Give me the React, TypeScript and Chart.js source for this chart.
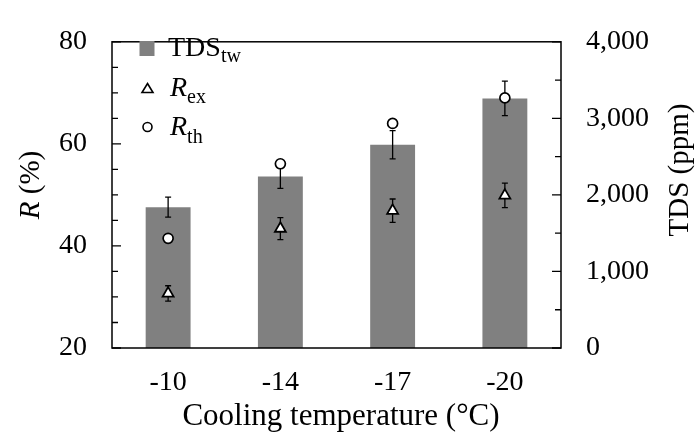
import React, { useEffect, useRef } from 'react';
import { Chart, registerables } from 'chart.js';

Chart.register(...registerables);

const categories = ['-10', '-14', '-17', '-20'];
const tdsTw = [1840, 2240, 2655, 3260];
const tdsTwErr = [130, 155, 185, 225];
const rEx = [30.7, 43.4, 46.9, 49.9];
const rExErr = [1.5, 2.15, 2.3, 2.4];
const rTh = [41.5, 56.1, 64.0, 69.0];
const leftMinorTicks = [20, 25, 30, 35, 40, 45, 50, 55, 60, 65, 70, 75, 80];
const rightMinorTicks = [0, 500, 1000, 1500, 2000, 2500, 3000, 3500, 4000];

const SERIF = '"Liberation Serif", "Times New Roman", Times, serif';
const BAR_COLOR = '#808080';

function textRun(ctx: CanvasRenderingContext2D, parts: { t: string; font: string; dy?: number }[], x: number, y: number, align: 'left' | 'center') {
  let total = 0;
  for (const p of parts) {
    ctx.font = p.font;
    total += ctx.measureText(p.t).width;
  }
  let cx = align === 'center' ? x - total / 2 : x;
  ctx.textAlign = 'left';
  ctx.textBaseline = 'alphabetic';
  for (const p of parts) {
    ctx.font = p.font;
    ctx.fillText(p.t, cx, y + (p.dy || 0));
    cx += ctx.measureText(p.t).width;
  }
}

const decorPlugin = {
  id: 'decor',
  afterDatasetDraw(chart: any, args: any) {
    if (args.index !== 0) return;
    const ctx: CanvasRenderingContext2D = chart.ctx;
    const xs = chart.scales.x;
    const ys = chart.scales.y;
    const y1s = chart.scales.y1;
    ctx.save();
    ctx.strokeStyle = '#000';
    ctx.lineWidth = 1.3;
    const cap = 3;
    const drawErr = (px: number, a: number, b: number) => {
      ctx.beginPath();
      ctx.moveTo(px, a);
      ctx.lineTo(px, b);
      ctx.moveTo(px - cap, a);
      ctx.lineTo(px + cap, a);
      ctx.moveTo(px - cap, b);
      ctx.lineTo(px + cap, b);
      ctx.stroke();
    };
    tdsTw.forEach((v, i) => {
      const px = xs.getPixelForValue(i);
      drawErr(px, y1s.getPixelForValue(v + tdsTwErr[i]), y1s.getPixelForValue(v - tdsTwErr[i]));
    });
    rEx.forEach((v, i) => {
      const px = xs.getPixelForValue(i);
      drawErr(px, ys.getPixelForValue(v + rExErr[i]), ys.getPixelForValue(v - rExErr[i]));
    });
    ctx.restore();
  },
  afterDraw(chart: any) {
    const ctx: CanvasRenderingContext2D = chart.ctx;
    const a = chart.chartArea;
    const ys = chart.scales.y;
    const y1s = chart.scales.y1;
    ctx.save();
    ctx.strokeStyle = '#000';
    ctx.lineWidth = 1.5;
    ctx.strokeRect(a.left, a.top, a.right - a.left, a.bottom - a.top);
    // inward ticks
    ctx.lineWidth = 1.3;
    ctx.beginPath();
    leftMinorTicks.forEach((v) => {
      const py = ys.getPixelForValue(v);
      const len = v % 20 === 0 ? 9 : 6;
      ctx.moveTo(a.left, py);
      ctx.lineTo(a.left + len, py);
    });
    rightMinorTicks.forEach((v) => {
      const py = y1s.getPixelForValue(v);
      const len = v % 1000 === 0 ? 9 : 6;
      ctx.moveTo(a.right, py);
      ctx.lineTo(a.right - len, py);
    });
    ctx.stroke();

    ctx.fillStyle = '#000';
    // x title
    textRun(ctx, [{ t: 'Cooling temperature (°C)', font: `31px ${SERIF}` }], 341, 425, 'center');
    // left title
    ctx.save();
    ctx.translate(39, 185);
    ctx.rotate(-Math.PI / 2);
    textRun(ctx, [
      { t: 'R', font: `italic 29px ${SERIF}` },
      { t: ' (%)', font: `29px ${SERIF}` },
    ], 0, 0, 'center');
    ctx.restore();
    // right title
    ctx.save();
    ctx.translate(688, 170);
    ctx.rotate(-Math.PI / 2);
    textRun(ctx, [{ t: 'TDS (ppm)', font: `29px ${SERIF}` }], 0, 0, 'center');
    ctx.restore();

    // legend
    ctx.fillStyle = BAR_COLOR;
    ctx.fillRect(139.5, 41, 15, 15);
    ctx.fillStyle = '#000';
    textRun(ctx, [
      { t: 'TDS', font: `28px ${SERIF}` },
      { t: 'tw', font: `20px ${SERIF}`, dy: 6 },
    ], 168, 56, 'left');
    // triangle marker
    ctx.beginPath();
    ctx.moveTo(147.5, 83.5);
    ctx.lineTo(153, 92.5);
    ctx.lineTo(142, 92.5);
    ctx.closePath();
    ctx.fillStyle = '#fff';
    ctx.fill();
    ctx.lineWidth = 1.6;
    ctx.strokeStyle = '#000';
    ctx.stroke();
    ctx.fillStyle = '#000';
    textRun(ctx, [
      { t: 'R', font: `italic 28px ${SERIF}` },
      { t: 'ex', font: `20px ${SERIF}`, dy: 7 },
    ], 170, 96, 'left');
    // circle marker
    ctx.beginPath();
    ctx.arc(147.5, 127, 4.5, 0, Math.PI * 2);
    ctx.fillStyle = '#fff';
    ctx.fill();
    ctx.stroke();
    ctx.fillStyle = '#000';
    textRun(ctx, [
      { t: 'R', font: `italic 28px ${SERIF}` },
      { t: 'th', font: `20px ${SERIF}`, dy: 8 },
    ], 170, 135, 'left');
    ctx.restore();
  },
};

export default function App() {
  const ref = useRef<HTMLCanvasElement | null>(null);
  useEffect(() => {
    document.body.style.margin = '0';
    const canvas = ref.current;
    if (!canvas) return;
    const tickFont = { family: SERIF, size: 28 };
    const chart = new Chart(canvas, {
      type: 'bar',
      data: {
        labels: categories,
        datasets: [
          {
            type: 'bar',
            label: 'TDS_tw',
            data: tdsTw,
            yAxisID: 'y1',
            backgroundColor: BAR_COLOR,
            borderWidth: 0,
            barPercentage: 0.4,
            categoryPercentage: 1,
            order: 3,
          } as any,
          {
            type: 'line',
            label: 'R_ex',
            data: rEx,
            yAxisID: 'y',
            showLine: false,
            pointStyle: 'triangle',
            pointRadius: 6.3,
            pointBackgroundColor: '#fff',
            pointBorderColor: '#000',
            pointBorderWidth: 1.8,
            order: 2,
          } as any,
          {
            type: 'line',
            label: 'R_th',
            data: rTh,
            yAxisID: 'y',
            showLine: false,
            pointStyle: 'circle',
            pointRadius: 5,
            pointBackgroundColor: '#fff',
            pointBorderColor: '#000',
            pointBorderWidth: 1.7,
            order: 1,
          } as any,
        ],
      },
      options: {
        responsive: false,
        devicePixelRatio: 1,
        animation: false,
        layout: { padding: { top: 22, left: 0, right: 0, bottom: 0 } },
        plugins: { legend: { display: false }, tooltip: { enabled: false } },
        scales: {
          x: {
            offset: true,
            grid: { display: false, drawTicks: false },
            border: { display: false },
            ticks: { font: tickFont, color: '#000', padding: 18, maxRotation: 0 },
            afterFit: (s: any) => { s.height = 88; },
          },
          y: {
            position: 'left',
            min: 20,
            max: 80,
            grid: { display: false, drawTicks: false },
            border: { display: false },
            ticks: { stepSize: 20, font: tickFont, color: '#000', padding: 25 },
            afterFit: (s: any) => { s.width = 112; },
          },
          y1: {
            position: 'right',
            min: 0,
            max: 4000,
            grid: { display: false, drawTicks: false },
            border: { display: false },
            ticks: {
              stepSize: 1000,
              font: tickFont,
              color: '#000',
              padding: 25,
              callback: (v: any) => Number(v).toLocaleString('en-US'),
            },
            afterFit: (s: any) => { s.width = 137; },
          },
        },
      } as any,
      plugins: [decorPlugin as any],
    });
    return () => chart.destroy();
  }, []);
  return (
    <div style={{ width: 698, height: 436, background: '#fff' }}>
      <canvas ref={ref} width={698} height={436} />
    </div>
  );
}
